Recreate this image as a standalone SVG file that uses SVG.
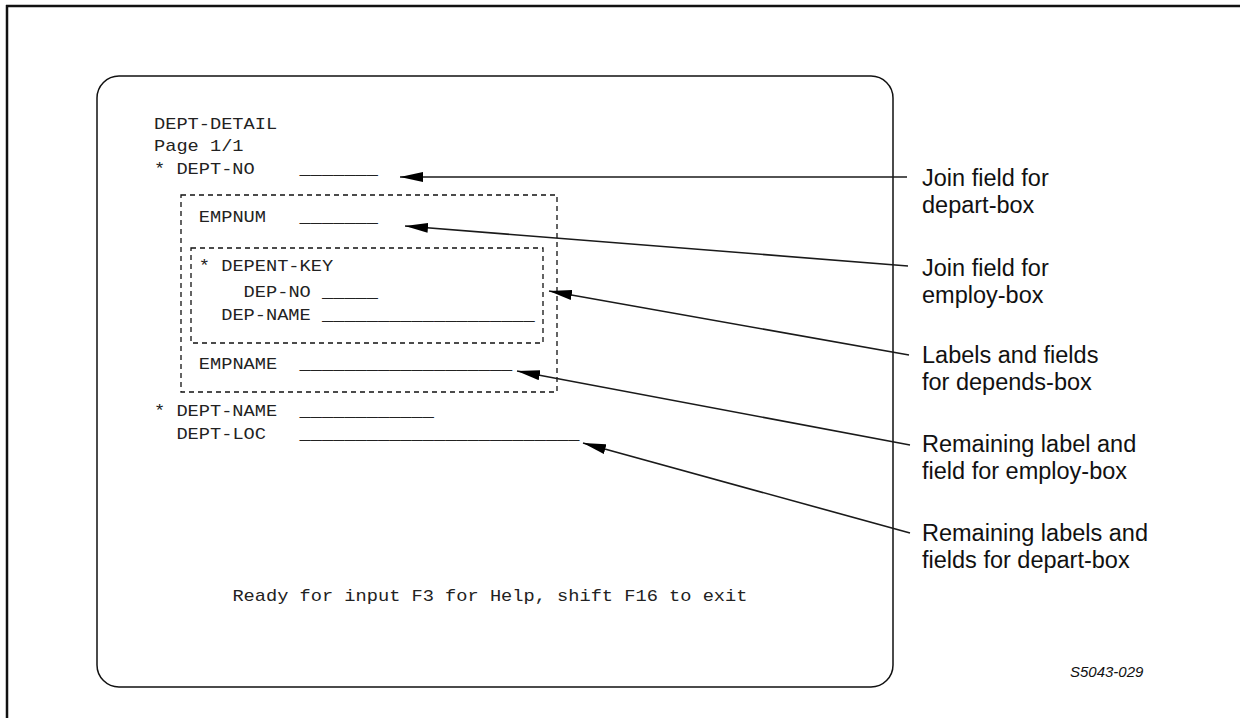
<svg xmlns="http://www.w3.org/2000/svg" width="1240" height="718" viewBox="0 0 1240 718">
  <style>
    .scr { font-family: "Liberation Mono", "Courier New", monospace; font-size: 16px; fill: #222; }
    .note { font-family: "Liberation Sans", Arial, sans-serif; font-size: 23.5px; fill: #111; }
    .fig { font-family: "Liberation Sans", Arial, sans-serif; font-size: 15px; font-style: italic; fill: #111; }
    .dash { fill: none; stroke: #111; stroke-width: 1.3; stroke-dasharray: 5 4; }
    .lead { fill: none; stroke: #1a1a1a; stroke-width: 1.6; marker-end: url(#head); }
  </style>
  <defs>
    <marker id="head" viewBox="0 0 23 10" refX="23" refY="5" markerWidth="23" markerHeight="10" markerUnits="userSpaceOnUse" orient="auto">
      <path d="M0,0 L23,5 L0,10 Z" fill="#000"/>
    </marker>
  </defs>

  <rect width="1240" height="718" fill="#fff"/>

  <!-- page frame: top and left rules -->
  <g id="frame" stroke="#111" stroke-width="2.5" fill="none">
    <line x1="6" y1="6" x2="1240" y2="6"/>
    <line x1="7" y1="5" x2="7" y2="718"/>
  </g>

  <!-- terminal screen -->
  <g id="screen">
    <rect x="97" y="76" width="796" height="611" rx="22" ry="22" fill="none" stroke="#111" stroke-width="1.5"/>
    <g transform="translate(154 0) scale(1.1667 1)">
      <text class="scr" x="0" y="129">DEPT-DETAIL</text>
      <text class="scr" x="0" y="151">Page 1/1</text>
      <text class="scr" x="0" y="174">* DEPT-NO</text>
      <text class="scr" x="124.8" y="174">_______</text>

      <text class="scr" x="38.4" y="222">EMPNUM</text>
      <text class="scr" x="124.8" y="222">_______</text>

      <text class="scr" x="38.4" y="271">* DEPENT-KEY</text>
      <text class="scr" x="76.8" y="297">DEP-NO</text>
      <text class="scr" x="144" y="297">_____</text>
      <text class="scr" x="57.6" y="320">DEP-NAME</text>
      <text class="scr" x="144" y="320">___________________</text>

      <text class="scr" x="38.4" y="369">EMPNAME</text>
      <text class="scr" x="124.8" y="369">___________________</text>

      <text class="scr" x="0" y="416">* DEPT-NAME</text>
      <text class="scr" x="124.8" y="416">____________</text>
      <text class="scr" x="19.2" y="439">DEPT-LOC</text>
      <text class="scr" x="124.8" y="439">_________________________</text>

      <text class="scr" x="67.2" y="601">Ready for input F3 for Help, shift F16 to exit</text>
    </g>
  </g>

  <!-- nested record boxes -->
  <g id="employ-box">
    <rect class="dash" x="181" y="195" width="376" height="197"/>
  </g>
  <g id="depends-box">
    <rect class="dash" x="191" y="248" width="352" height="95"/>
  </g>

  <!-- callout labels -->
  <g id="note-depart-join">
    <text class="note" x="922" y="186">Join field for</text>
    <text class="note" x="922" y="213">depart-box</text>
  </g>
  <g id="note-employ-join">
    <text class="note" x="922" y="276">Join field for</text>
    <text class="note" x="922" y="303">employ-box</text>
  </g>
  <g id="note-depends">
    <text class="note" x="922" y="363">Labels and fields</text>
    <text class="note" x="922" y="390">for depends-box</text>
  </g>
  <g id="note-employ-rest">
    <text class="note" x="922" y="452">Remaining label and</text>
    <text class="note" x="922" y="479">field for employ-box</text>
  </g>
  <g id="note-depart-rest">
    <text class="note" x="922" y="541">Remaining labels and</text>
    <text class="note" x="922" y="568">fields for depart-box</text>
  </g>

  <!-- leader arrows -->
  <g id="connectors">
    <line class="lead" x1="907" y1="177" x2="400" y2="177"/>
    <line class="lead" x1="908" y1="266" x2="405" y2="226"/>
    <line class="lead" x1="909" y1="355" x2="549" y2="291"/>
    <line class="lead" x1="910" y1="445" x2="517" y2="371"/>
    <line class="lead" x1="910" y1="533" x2="583" y2="443"/>
  </g>

  <text class="fig" x="1070" y="677">S5043-029</text>
</svg>
